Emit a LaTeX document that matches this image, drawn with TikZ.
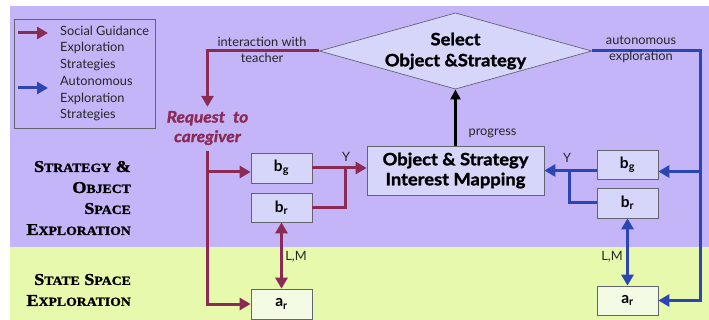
\documentclass[tikz,border=0pt]{standalone}
\usepackage{fontspec}
\newfontfamily\sans{Lato}
\newfontfamily\heavy[FakeBold=1.5,FakeStretch=1.08]{Lato}
\newfontfamily\capserif[FakeStretch=1.1,FakeBold=1.5]{Liberation Serif}
% a capital followed by hand-made small capitals
\newcommand\capw[2]{{\fontsize{16.5}{21}\selectfont #1}{\fontsize{12.5}{21}\selectfont #2}}
\usetikzlibrary{arrows.meta,shapes.geometric,calc}
\definecolor{bgpurple}{RGB}{196,181,249}
\definecolor{bggreen}{RGB}{230,249,172}
\definecolor{boxfill}{RGB}{214,214,250}
\definecolor{arfill}{RGB}{243,251,228}
\definecolor{sgred}{RGB}{140,42,86}
\definecolor{aublue}{RGB}{43,69,179}
\definecolor{edge}{RGB}{100,100,110}
\begin{document}
\begin{tikzpicture}[x=1pt,y=-1pt,
  redl/.style={draw=sgred, line width=3pt},
  bluel/.style={draw=aublue, line width=3pt},
  tip/.style={-{Triangle[length=11pt,width=12pt]}},
  dtip/.style={{Triangle[length=11pt,width=12pt]}-{Triangle[length=11pt,width=12pt]}},
  box/.style={draw=edge, line width=0.7pt, fill=boxfill, minimum width=61pt,
    minimum height=30pt, inner sep=0pt, font=\sans\bfseries\fontsize{15.5}{15.5}\selectfont},
  arbox/.style={box, fill=arfill},
  lbl/.style={font=\sans\fontsize{12.8}{16.5}\selectfont, inner sep=0pt, text=black!85},
  side/.style={font=\capserif\bfseries\fontsize{16.5}{21}\selectfont, align=right, inner sep=0pt, anchor=east, text=black}
]
\useasboundingbox (0,0) rectangle (709,320);
% background bands
\fill[bgpurple] (10,6) rectangle (709,247);
\fill[bggreen] (10,247) rectangle (709,320);

% legend
\node[draw=edge, line width=0.8pt, minimum width=141pt, minimum height=109pt, inner sep=0pt] (legend) at (84.5,73.5) {};
\coordinate (lra) at (18,33);
\coordinate (lrb) at (48,33);
\coordinate (lba) at (18,88);
\coordinate (lbb) at (48,88);
\draw[redl,tip] (lra) -- (lrb);
\draw[bluel,tip] (lba) -- (lbb);
\node[lbl, anchor=west, align=left] (lsg) at (60,48) {Social Guidance\\Exploration\\Strategies};
\node[lbl, anchor=west, align=left] (lau) at (60,99) {Autonomous\\Exploration\\Strategies};

% side labels
\node[side] (sso) at (131,198) {\capw{S}{TRATEGY} \&\\\capw{O}{BJECT}\\\capw{S}{PACE}\\\capw{E}{XPLORATION}};
\node[side] (sse) at (131,290) {\capw{S}{TATE} \capw{S}{PACE}\\\capw{E}{XPLORATION}};

% decision diamond and interest mapping
\node[diamond, draw=edge, line width=0.7pt, fill=boxfill, minimum width=271pt, minimum height=76pt,
  aspect=3.57, inner sep=0pt, align=center, font=\heavy\bfseries\fontsize{17}{21}\selectfont] (dia) at (455.5,51) {Select\\Object \&Strategy};
\node[box, minimum width=177pt, minimum height=49pt, align=center, font=\heavy\bfseries\fontsize{17}{20}\selectfont] (obj) at (455.5,170.5) {Object \& Strategy\\Interest Mapping};

% social guidance side boxes
\node[box] (bgL) at (281.5,168) {b\textsubscript{g}};
\node[box, minimum height=29pt] (brL) at (281.5,207.5) {b\textsubscript{r}};
\node[arbox] (arL) at (281.5,304) {a\textsubscript{r}};
% autonomous side boxes
\node[box, minimum height=29pt] (bgR) at (627.5,164.5) {b\textsubscript{g}};
\node[box] (brR) at (627.5,203) {b\textsubscript{r}};
\node[arbox, minimum height=29pt] (arR) at (627.5,300.5) {a\textsubscript{r}};

\node[align=center, inner sep=1pt, text=sgred, font=\heavy\bfseries\itshape\fontsize{16}{19.5}\selectfont] (req) at (207.5,128) {Request\enspace to\\caregiver};

% routing points
\coordinate (jL) at (345,0);
\coordinate (jR) at (569,0);
\coordinate (xR) at (700,0);
\coordinate (bgLin) at ($(bgL.west)+(0,4)$);
\coordinate (bgRin) at ($(bgR.east)+(0,7)$);
\coordinate (reqtop) at ($(req.north)+(0,-3)$);
\coordinate (reqbot) at ($(req.south)+(0,5)$);

% social guidance connectors
\draw[redl,tip] (dia.west) -| (reqtop);
\draw[redl,tip] (reqbot) |- (arL.west);
\draw[redl,tip] (reqbot |- bgLin) -- (bgLin);
\draw[redl,tip] (bgL.east) -- (bgL.east -| obj.west);
\draw[redl] (brL.east) -| (jL |- bgL.east);
\draw[redl,dtip] (brL.south) -- (arL.north);

% autonomous connectors
\draw[bluel,tip] (dia.east) -| (xR |- arR.east) -- (arR.east);
\draw[bluel,tip] (xR |- bgRin) -- (bgRin);
\draw[bluel,tip] (bgR.west |- obj.east) -- (obj.east);
\draw[bluel] (brR.west) -| (jR |- obj.east);
\draw[bluel,dtip] (brR.south) -- (arR.north);

% progress feedback
\draw[line width=2.5pt, -{Triangle[length=10pt,width=10pt]}] (obj.north) -- (dia.south);

% connector labels
\node[lbl, align=center] (tint) at (262,50) {interaction with\\teacher};
\node[lbl, align=center] (tauto) at (641,49.5) {autonomous\\exploration};
\node[lbl] (tprog) at (492.5,133) {progress};
\node[lbl] (yL) at (346,157) {Y};
\node[lbl] (yR) at (567,158) {Y};
\node[lbl] (lmL) at (296,257) {L,M};
\node[lbl] (lmR) at (612,257) {L,M};
\end{tikzpicture}
\end{document}
